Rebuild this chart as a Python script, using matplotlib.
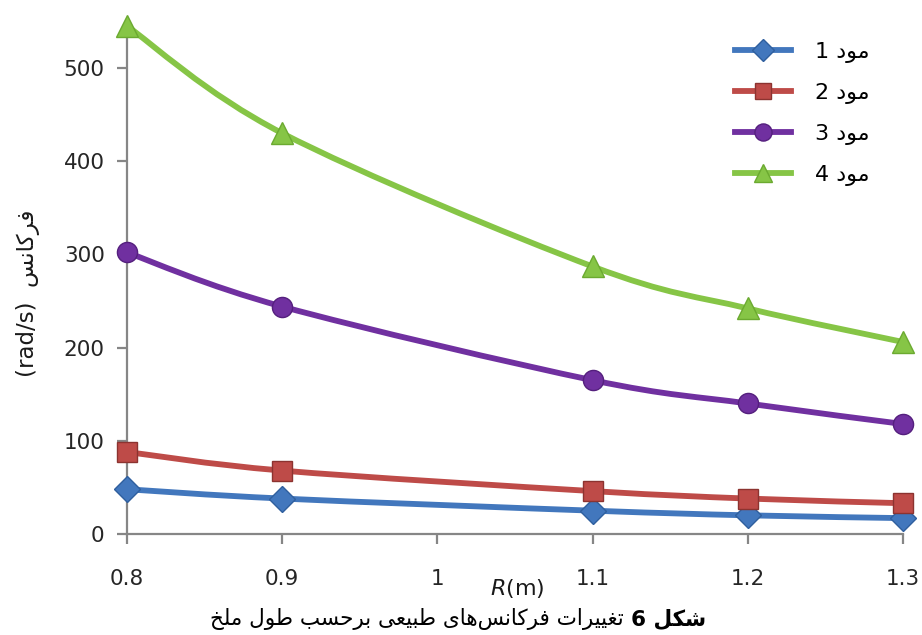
import numpy as np
import matplotlib
matplotlib.use('Agg')
import matplotlib.pyplot as plt
from matplotlib.path import Path
from matplotlib.patches import PathPatch
from matplotlib.lines import Line2D

# data
r_values = [0.8, 0.9, 1.1, 1.2, 1.3]
mode1 = [48, 38, 25, 20, 17]
mode2 = [88, 68, 46, 38, 33]
mode3 = [302, 244, 165, 140, 118]
mode4 = [545, 430, 287, 242, 206]
x_ticks = [0.8, 0.9, 1.0, 1.1, 1.2, 1.3]
x_tick_labels = ['0.8', '0.9', '1', '1.1', '1.2', '1.3']
y_ticks = [0, 100, 200, 300, 400, 500]

# Persian letters -> presentation forms (iso, fin, ini, med); 2-tuple = joins only to the right
FORMS = {
    '\u0627': ('\uFE8D', '\uFE8E'),
    '\u0628': ('\uFE8F', '\uFE90', '\uFE91', '\uFE92'),
    '\u062A': ('\uFE95', '\uFE96', '\uFE97', '\uFE98'),
    '\u062D': ('\uFEA1', '\uFEA2', '\uFEA3', '\uFEA4'),
    '\u062E': ('\uFEA5', '\uFEA6', '\uFEA7', '\uFEA8'),
    '\u062F': ('\uFEA9', '\uFEAA'),
    '\u0631': ('\uFEAD', '\uFEAE'),
    '\u0633': ('\uFEB1', '\uFEB2', '\uFEB3', '\uFEB4'),
    '\u0634': ('\uFEB5', '\uFEB6', '\uFEB7', '\uFEB8'),
    '\u0637': ('\uFEC1', '\uFEC2', '\uFEC3', '\uFEC4'),
    '\u0639': ('\uFEC9', '\uFECA', '\uFECB', '\uFECC'),
    '\u063A': ('\uFECD', '\uFECE', '\uFECF', '\uFED0'),
    '\u0641': ('\uFED1', '\uFED2', '\uFED3', '\uFED4'),
    '\u0644': ('\uFEDD', '\uFEDE', '\uFEDF', '\uFEE0'),
    '\u0645': ('\uFEE1', '\uFEE2', '\uFEE3', '\uFEE4'),
    '\u0646': ('\uFEE5', '\uFEE6', '\uFEE7', '\uFEE8'),
    '\u0647': ('\uFEE9', '\uFEEA', '\uFEEB', '\uFEEC'),
    '\u0648': ('\uFEED', '\uFEEE'),
    '\u06A9': ('\uFB8E', '\uFB8F', '\uFB90', '\uFB91'),
    '\u06CC': ('\uFBFC', '\uFBFD', '\uFBFE', '\uFBFF'),
}


def fa(s):
    # shape and put into visual (left-to-right) order
    out = []
    for i, c in enumerate(s):
        if c not in FORMS:
            out.append(c)
            continue
        prev = s[i - 1] if i > 0 else ''
        nxt = s[i + 1] if i + 1 < len(s) else ''
        jp = prev in FORMS and len(FORMS[prev]) == 4
        jn = len(FORMS[c]) == 4 and nxt in FORMS
        idx = 3 if (jp and jn) else 1 if jp else 2 if jn else 0
        out.append(FORMS[c][idx])
    return ''.join(out).replace('\u200c', '')[::-1]


def smooth_path(xs, ys):
    pts = np.column_stack([xs, ys]).astype(float)
    n = len(pts)
    verts = [pts[0]]
    codes = [Path.MOVETO]
    for i in range(n - 1):
        p0 = pts[max(i - 1, 0)]
        p1 = pts[i]
        p2 = pts[i + 1]
        p3 = pts[min(i + 2, n - 1)]
        verts += [p1 + (p2 - p0) / 6, p2 - (p3 - p1) / 6, p2]
        codes += [Path.CURVE4] * 3
    return Path(verts, codes)


plt.rcParams['font.family'] = ['DejaVu Sans']

fig = plt.figure(figsize=(9.22, 6.35), dpi=100)
ax = fig.add_axes([0.1377, 0.1591, 0.8416, 0.7926])

series = [
    (mode1, '#4277BD', '#2F5F9E', 'D', 13, fa('مود 1')),
    (mode2, '#BE4B48', '#8C3330', 's', 14, fa('مود 2')),
    (mode3, '#7030A0', '#55207E', 'o', 14.5, fa('مود 3')),
    (mode4, '#86C546', '#6BAA30', '^', 16, fa('مود 4')),
]

handles = []
for vals, col, edge, mk, ms, lab in series:
    ax.add_patch(PathPatch(smooth_path(r_values, vals), fill=False, edgecolor=col,
                           lw=4.2, capstyle='round', clip_on=False, zorder=3))
    ax.plot(r_values, vals, linestyle='none', marker=mk, markersize=ms, color=col,
            markeredgecolor=edge, markeredgewidth=1, clip_on=False, zorder=4)
    handles.append(Line2D([], [], color=col, lw=4.2, marker=mk, markersize=ms * 0.85,
                          markeredgecolor=edge, markeredgewidth=1))

ax.set_xlim(0.8, 1.3)
ax.set_ylim(0, 540)
ax.set_xticks(x_ticks)
ax.set_xticklabels(x_tick_labels)
ax.set_yticks(y_ticks)

for s in ['top', 'right']:
    ax.spines[s].set_visible(False)
for s in ['left', 'bottom']:
    ax.spines[s].set_color('#868686')
    ax.spines[s].set_linewidth(1.6)
ax.tick_params(axis='both', colors='#868686', width=1.6, length=7, labelcolor='#262626',
               labelsize=15.5)
ax.tick_params(axis='x', pad=18.5)
ax.tick_params(axis='y', pad=9)

fig.text(28 / 922, 1 - 293 / 635, '(rad/s)  ' + fa('فرکانس'), rotation=90,
         ha='center', va='center', fontsize=16.5, color='#1a1a1a')

fig.text(517 / 922, 1 - 588 / 635, r'$\mathit{R}$(m)', ha='center', va='center',
         fontsize=16, color='#1a1a1a')

leg = ax.legend(handles, [s[5] for s in series], loc='upper left',
                bbox_to_anchor=(715 / 922, 1 - 22 / 635), bbox_transform=fig.transFigure,
                frameon=False, fontsize=16, handlelength=2.5, handletextpad=1.1,
                labelspacing=0.9)

bold = fig.text(706 / 922, 1 - 619 / 635, fa('شکل 6'), ha='right', va='center',
                fontsize=15.5, fontweight='bold', color='black')
ax.annotate(fa('تغییرات فرکانس\u200cهای طبیعی برحسب طول ملخ') + ' ', xy=(0, 0.5),
            xycoords=bold, ha='right', va='center', fontsize=15.5, color='black',
            annotation_clip=False)

fig.savefig('out.png', dpi=100)
